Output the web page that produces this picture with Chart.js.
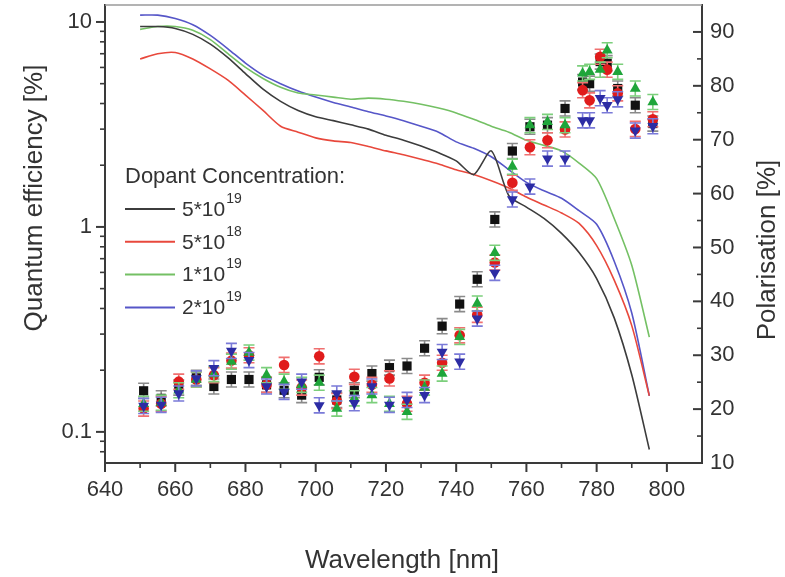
<!DOCTYPE html>
<html>
<head>
<meta charset="utf-8">
<script src="https://cdn.jsdelivr.net/npm/chart.js@4.4.1/dist/chart.umd.min.js"></script>
<style>
  html, body { margin: 0; padding: 0; background: #fff; }
  #wrap { width: 785px; height: 577px; position: relative; }
</style>
</head>
<body>
<div id="wrap"><canvas id="qe-chart"></canvas></div>
<script>
// quantum efficiency spectra (left, log axis)
const qeWavelength = [650,655,660,665,670,675,680,685,690,695,700,705,710,715,720,725,730,735,740,745,750,755,760,765,770,775,780,785,790,795];
const qe5e19 = [9.5,9.5,9.3,8.7,7.8,6.7,5.6,4.7,4.1,3.7,3.45,3.3,3.15,3.0,2.8,2.65,2.48,2.3,2.1,1.8,2.35,1.42,1.25,1.1,0.93,0.75,0.56,0.36,0.19,0.082];
const qe5e18 = [6.6,7.0,7.1,6.6,5.9,5.2,4.4,3.7,3.1,2.9,2.72,2.63,2.58,2.47,2.35,2.25,2.14,2.03,1.9,1.8,1.68,1.55,1.4,1.28,1.17,1.04,0.81,0.55,0.33,0.15];
const qe1e19 = [9.2,9.5,9.5,9.1,8.2,7.0,6.0,5.3,4.8,4.5,4.4,4.3,4.2,4.25,4.2,4.1,3.97,3.8,3.6,3.35,3.1,2.9,2.65,2.5,2.35,2.05,1.72,1.1,0.65,0.29];
const qe2e19 = [10.8,10.8,10.4,9.7,8.6,7.4,6.3,5.5,5.0,4.6,4.3,4.05,3.85,3.65,3.48,3.3,3.1,2.9,2.6,2.42,2.2,1.9,1.65,1.5,1.38,1.2,1.03,0.68,0.38,0.15];

// polarisation (right axis)
const polWavelength = [651,656,661,666,671,676,681,686,691,696,701,706,711,716,721,726,731,736,741,746,751,756,761,766,771,776,778,781,783,786,791,796];
const pol5e19 = [23.4,22.0,24.0,25.8,24.2,25.5,25.5,24.5,23.5,22.6,25.9,21.7,23.5,26.6,27.7,28.0,31.3,35.4,39.5,44.1,55.2,67.9,72.4,72.7,75.8,80.7,80.4,84.5,84.2,79.5,76.4,73.0];
const pol5e18 = [20.1,21.0,25.1,25.5,26.3,29.0,30.0,24.5,28.2,24.0,29.8,21.5,26.0,24.5,25.7,21.0,24.9,28.6,33.7,37.5,47.2,62.0,68.6,69.9,71.9,79.2,77.3,85.4,83.0,78.6,72.0,73.8];
const pol1e19 = [21.0,21.2,23.5,25.5,26.5,28.8,30.5,26.3,25.1,24.5,24.9,20.1,22.0,22.6,21.0,19.5,24.0,26.6,33.4,39.6,49.0,65.0,72.7,73.3,72.7,82.3,82.6,83.0,86.6,82.6,79.5,77.0];
const pol2e19 = [20.6,20.8,22.9,25.7,27.6,30.8,29.1,24.2,23.2,25.1,20.7,22.9,21.1,24.2,20.8,21.7,22.6,30.6,28.8,36.8,45.3,58.9,61.3,66.5,66.5,73.6,73.6,77.7,76.4,77.5,71.7,72.5];
const polErr = 1.4;

const concLabels = ['5*10', '5*10', '1*10', '2*10'];
const concExponents = ['19', '18', '19', '19'];

const xTicks = [640, 660, 680, 700, 720, 740, 760, 780, 800];
const xMinorTicks = [650, 670, 690, 710, 730, 750, 770, 790];
const qeTicks = [0.1, 1, 10];
const qeMinorTicks = [0.08, 0.09, 0.2, 0.3, 0.4, 0.5, 0.6, 0.7, 0.8, 0.9, 2, 3, 4, 5, 6, 7, 8, 9];
const polTicks = [10, 20, 30, 40, 50, 60, 70, 80, 90];
const polMinorTicks = [15, 25, 35, 45, 55, 65, 75, 85];

const FONT = "'Liberation Sans', Arial, sans-serif";
const TEXT = '#333';
const AXIS = '#3a3a3a';
const lineColors = ['#3c3c3c', '#e8483c', '#74c064', '#5656c8'];
const markColors = ['#111111', '#e01c1c', '#1fa53a', '#2c2ca4'];
const errColors = ['#8a8a8a', '#f07070', '#7ccf7c', '#7a7ad8'];

const toPts = (xs, ys) => xs.map((x, i) => ({ x, y: ys[i] }));

const qeSeries = [qe5e19, qe5e18, qe1e19, qe2e19];
const polSeries = [pol5e19, pol5e18, pol1e19, pol2e19];

const lineSets = qeSeries.map((s, i) => ({
  type: 'line',
  data: toPts(qeWavelength, s),
  yAxisID: 'y',
  borderColor: lineColors[i],
  borderWidth: 1.6,
  pointRadius: 0,
  tension: 0.25,
  order: 10
}));

const pointStyles = [
  { pointStyle: 'rect', pointRadius: 6.5, rotation: 0 },
  { pointStyle: 'circle', pointRadius: 5.3, rotation: 0 },
  { pointStyle: 'triangle', pointRadius: 6.3, rotation: 0 },
  { pointStyle: 'triangle', pointRadius: 6.3, rotation: 180 }
];

const scatterSets = polSeries.map((s, i) => ({
  type: 'line',
  showLine: false,
  data: toPts(polWavelength, s),
  yAxisID: 'y2',
  pointStyle: pointStyles[i].pointStyle,
  pointRadius: pointStyles[i].pointRadius,
  pointRotation: pointStyles[i].rotation,
  pointBackgroundColor: markColors[i],
  pointBorderColor: markColors[i],
  pointBorderWidth: 0,
  errColor: errColors[i],
  order: 4 - i
}));

const errorBars = {
  id: 'errorBars',
  beforeDatasetDraw(chart, args) {
    const ds = chart.data.datasets[args.index];
    if (!ds.errColor) return;
    const ctx = chart.ctx;
    const ys = chart.scales.y2;
    ctx.save();
    ctx.strokeStyle = ds.errColor;
    ctx.lineWidth = 1.6;
    args.meta.data.forEach((el, i) => {
      const v = ds.data[i].y;
      const t = ys.getPixelForValue(v + polErr);
      const b = ys.getPixelForValue(v - polErr);
      ctx.beginPath();
      ctx.moveTo(el.x, t); ctx.lineTo(el.x, b);
      ctx.moveTo(el.x - 5.5, t); ctx.lineTo(el.x + 5.5, t);
      ctx.moveTo(el.x - 5.5, b); ctx.lineTo(el.x + 5.5, b);
      ctx.stroke();
    });
    ctx.restore();
  }
};

const frame = {
  id: 'frame',
  afterDraw(chart) {
    const ctx = chart.ctx;
    const { left, right, top, bottom } = chart.chartArea;
    const sx = chart.scales.x, sy = chart.scales.y, sy2 = chart.scales.y2;
    ctx.save();
    // top border
    ctx.strokeStyle = '#9a9a9a';
    ctx.lineWidth = 1.5;
    ctx.beginPath(); ctx.moveTo(left, top); ctx.lineTo(right, top); ctx.stroke();
    ctx.strokeStyle = AXIS;
    const tick = (x1, y1, x2, y2, w) => {
      ctx.lineWidth = w;
      ctx.beginPath(); ctx.moveTo(x1, y1); ctx.lineTo(x2, y2); ctx.stroke();
    };
    xTicks.forEach(v => { const p = sx.getPixelForValue(v); tick(p, bottom, p, bottom + 9, 2); });
    xMinorTicks.forEach(v => { const p = sx.getPixelForValue(v); tick(p, bottom, p, bottom + 5, 1.6); });
    qeTicks.forEach(v => { const p = sy.getPixelForValue(v); tick(left, p, left - 9, p, 2); });
    qeMinorTicks.forEach(v => { const p = sy.getPixelForValue(v); tick(left, p, left - 5, p, 1.6); });
    polTicks.forEach(v => { const p = sy2.getPixelForValue(v); tick(right, p, right - 9, p, 2); });
    polMinorTicks.forEach(v => { const p = sy2.getPixelForValue(v); tick(right, p, right - 5, p, 1.6); });

    // axis titles
    ctx.fillStyle = TEXT;
    ctx.font = '26px ' + FONT;
    ctx.textAlign = 'center';
    ctx.textBaseline = 'alphabetic';
    ctx.fillText('Wavelength [nm]', 402, 568);
    ctx.save();
    ctx.translate(42, 198); ctx.rotate(-Math.PI / 2);
    ctx.fillText('Quantum efficiency [%]', 0, 0);
    ctx.restore();
    ctx.save();
    ctx.translate(775, 250); ctx.rotate(-Math.PI / 2);
    ctx.fillText('Polarisation [%]', 0, 0);
    ctx.restore();

    // legend
    ctx.textAlign = 'left';
    ctx.textBaseline = 'middle';
    ctx.font = '22px ' + FONT;
    ctx.fillText('Dopant Concentration:', 125, 177);
    concLabels.forEach((lab, i) => {
      const y = 209 + i * 32.8;
      ctx.strokeStyle = lineColors[i];
      ctx.lineWidth = 2;
      ctx.beginPath(); ctx.moveTo(125, y); ctx.lineTo(175, y); ctx.stroke();
      ctx.font = '21px ' + FONT;
      ctx.fillText(lab, 182, y + 1);
      const w = ctx.measureText(lab).width;
      ctx.font = '14px ' + FONT;
      ctx.fillText(concExponents[i], 182 + w + 1, y - 10);
    });
    ctx.restore();
  }
};

const tickFont = { size: 22, family: FONT };
// force the plot box: no automatic label padding on the axes
const noPad = s => { s.paddingTop = 0; s.paddingBottom = 0; s.paddingLeft = 0; s.paddingRight = 0; };

new Chart(document.getElementById('qe-chart'), {
  data: { datasets: [...scatterSets, ...lineSets] },
  options: {
    responsive: true,
    maintainAspectRatio: false,
    animation: false,
    layout: { autoPadding: false, padding: { top: 5, left: 0, right: 0, bottom: 0 } },
    plugins: { legend: { display: false }, tooltip: { enabled: false } },
    scales: {
      x: {
        type: 'linear', position: 'bottom', min: 640, max: 810,
        afterBuildTicks: s => { s.ticks = xTicks.map(v => ({ value: v })); },
        afterFit: s => { s.height = 114; noPad(s); },
        grid: { drawOnChartArea: false, drawTicks: false },
        border: { display: true, color: AXIS, width: 2 },
        ticks: { color: TEXT, font: tickFont, padding: 14, maxRotation: 0, autoSkip: false, callback: v => String(v) }
      },
      y: {
        type: 'logarithmic', position: 'left', min: 0.0705, max: 12.1,
        afterBuildTicks: s => { s.ticks = qeTicks.map(v => ({ value: v })); },
        afterFit: s => { s.width = 105; noPad(s); },
        grid: { drawOnChartArea: false, drawTicks: false },
        border: { display: true, color: AXIS, width: 2 },
        ticks: { color: TEXT, font: tickFont, padding: 13, autoSkip: false, callback: v => String(v) }
      },
      y2: {
        type: 'linear', position: 'right', min: 10, max: 95,
        afterBuildTicks: s => { s.ticks = polTicks.map(v => ({ value: v })); },
        afterFit: s => { s.width = 83; noPad(s); },
        grid: { drawOnChartArea: false, drawTicks: false },
        border: { display: true, color: AXIS, width: 2 },
        ticks: { color: TEXT, font: tickFont, padding: 8, autoSkip: false, callback: v => String(v) }
      }
    }
  },
  plugins: [errorBars, frame]
});
</script>
</body>
</html>
